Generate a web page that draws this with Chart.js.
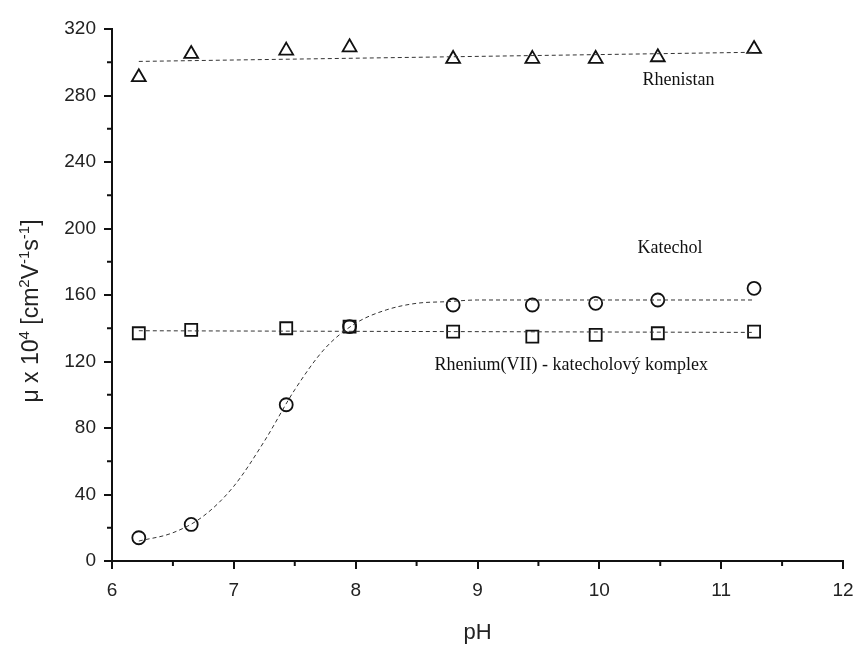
<!DOCTYPE html>
<html>
<head>
<meta charset="utf-8">
<script src="https://cdn.jsdelivr.net/npm/chart.js@4"></script>
<style>
  body { margin: 0; background: #fff; }
  #wrap { width: 857px; height: 646px; }
</style>
</head>
<body>
<div id="wrap"><canvas id="myChart" width="857" height="646"></canvas></div>
<script>
// measured points
const pH = [6.22, 6.65, 7.43, 7.95, 8.80, 9.45, 9.97, 10.48, 11.27];
const rhenistan = [291, 305, 307, 309, 302, 302, 302, 303, 308];
const katechol = [14, 22, 94, 141, 154, 154, 155, 157, 164];
const komplex = [137, 139, 140, 141, 138, 135, 136, 137, 138];

// fitted curves
const fitRhenistanX = [6.22, 11.27];
const fitRhenistanY = [300.5, 306];
const fitKomplexX = [6.22, 11.27];
const fitKomplexY = [138.5, 137.5];
const fitKatecholX = [6.22, 6.5, 6.75, 7.0, 7.25, 7.5, 7.75, 8.0, 8.25, 8.5, 8.75, 9.0, 10.0, 11.27];
const fitKatecholY = [12, 17, 27, 45, 72, 103, 128, 143, 151, 155, 156, 157, 157, 157];

const yTicks = [0, 40, 80, 120, 160, 200, 240, 280, 320];
const xTicks = [6, 7, 8, 9, 10, 11, 12];

function pts(xs, ys) {
  return xs.map(function (x, i) { return { x: x, y: ys[i] }; });
}

const fitStyle = {
  borderColor: '#333',
  borderWidth: 1,
  borderDash: [4, 3],
  pointRadius: 0,
  fill: false,
  showLine: true
};
const markStyle = {
  showLine: false,
  borderColor: '#111',
  backgroundColor: 'rgba(0,0,0,0)',
  pointBorderWidth: 1.8
};

// y title with superscripts: [text, isSup]
const yTitleParts = [['μ x 10', 0], ['4', 1], [' [cm', 0], ['2', 1], ['V', 0], ['-1', 1], ['s', 0], ['-1', 1], [']', 0]];

// minor ticks, y title + text labels
const extras = {
  id: 'extras',
  afterDraw(chart) {
    const c = chart.ctx;
    const xs = chart.scales.x, ys = chart.scales.y;
    c.save();
    c.strokeStyle = '#111';
    c.lineWidth = 2;
    for (let v = 20; v < 320; v += 40) {
      const p = ys.getPixelForValue(v);
      c.beginPath(); c.moveTo(ys.right - 5, p); c.lineTo(ys.right, p); c.stroke();
    }
    for (let v = 6.5; v < 12; v += 1) {
      const p = xs.getPixelForValue(v);
      c.beginPath(); c.moveTo(p, xs.top); c.lineTo(p, xs.top + 5); c.stroke();
    }

    // y title
    const big = "23px 'Liberation Sans'", small = "15px 'Liberation Sans'";
    let total = 0;
    yTitleParts.forEach(function (p) { c.font = p[1] ? small : big; total += c.measureText(p[0]).width; });
    c.save();
    c.translate(38, 311);
    c.rotate(-Math.PI / 2);
    c.fillStyle = '#222';
    c.textBaseline = 'alphabetic';
    c.textAlign = 'left';
    let cx = -total / 2;
    yTitleParts.forEach(function (p) {
      c.font = p[1] ? small : big;
      c.fillText(p[0], cx, p[1] ? -9 : 0);
      cx += c.measureText(p[0]).width;
    });
    c.restore();

    c.fillStyle = '#111';
    c.font = "18px 'Liberation Serif'";
    c.textAlign = 'center';
    c.textBaseline = 'middle';
    c.fillText('Rhenistan', xs.getPixelForValue(10.65), ys.getPixelForValue(289));
    c.fillText('Katechol', xs.getPixelForValue(10.58), ys.getPixelForValue(188));
    c.fillText('Rhenium(VII) - katecholový komplex', xs.getPixelForValue(9.77), ys.getPixelForValue(117.5));
    c.restore();
  }
};

new Chart(document.getElementById('myChart'), {
  type: 'scatter',
  data: {
    datasets: [
      Object.assign({ label: 'fit R', data: pts(fitRhenistanX, fitRhenistanY) }, fitStyle),
      Object.assign({ label: 'fit K', data: pts(fitKatecholX, fitKatecholY), cubicInterpolationMode: 'monotone' }, fitStyle),
      Object.assign({ label: 'fit C', data: pts(fitKomplexX, fitKomplexY) }, fitStyle),
      Object.assign({ label: 'Rhenistan', data: pts(pH, rhenistan), pointStyle: 'triangle', pointRadius: 8 }, markStyle),
      Object.assign({ label: 'Katechol', data: pts(pH, katechol), pointStyle: 'circle', pointRadius: 6.5 }, markStyle),
      Object.assign({ label: 'Komplex', data: pts(pH, komplex), pointStyle: 'rect', pointRadius: 8.5 }, markStyle)
    ]
  },
  options: {
    responsive: false,
    animation: false,
    layout: { padding: { top: 29, right: 0, left: 6, bottom: 0 } },
    plugins: { legend: { display: false }, tooltip: { enabled: false } },
    scales: {
      x: {
        type: 'linear',
        min: 6, max: 12,
        afterBuildTicks: function (s) { s.ticks = xTicks.map(function (v) { return { value: v }; }); },
        afterFit: function (s) { s.height = 85; s.paddingRight = 14; },
        border: { color: '#111', width: 2 },
        grid: { drawOnChartArea: false, tickLength: 8, tickColor: '#111', lineWidth: 2 },
        ticks: { color: '#222', font: { family: 'Liberation Sans', size: 19 }, padding: 10 },
        title: { display: true, text: 'pH', color: '#222', font: { family: 'Liberation Sans', size: 22 }, padding: { top: 22, bottom: 0 } }
      },
      y: {
        min: 0, max: 320,
        afterBuildTicks: function (s) { s.ticks = yTicks.map(function (v) { return { value: v }; }); },
        afterFit: function (s) { s.width = 106; },
        border: { color: '#111', width: 2 },
        grid: { drawOnChartArea: false, tickLength: 8, tickColor: '#111', lineWidth: 2 },
        ticks: { color: '#222', font: { family: 'Liberation Sans', size: 19 }, padding: 8 }
      }
    }
  },
  plugins: [extras]
});
</script>
</body>
</html>
